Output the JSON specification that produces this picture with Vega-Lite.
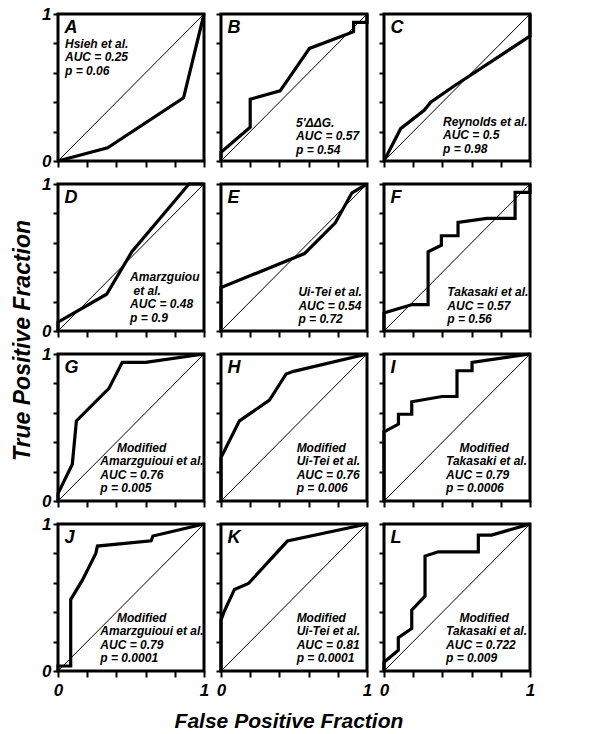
{
"$schema":"https://vega.github.io/schema/vega-lite/v6.json",
"padding":{"left":12,"top":3,"right":5,"bottom":5},
"datasets":{
"diag":[{"fpf":0,"tpf":0},{"fpf":1,"tpf":1}],
"roc":[
{"panel":"A","i":0,"fpf":0,"tpf":0},{"panel":"A","i":1,"fpf":0.34,"tpf":0.09},{"panel":"A","i":2,"fpf":0.86,"tpf":0.43},{"panel":"A","i":3,"fpf":1,"tpf":1},
{"panel":"B","i":0,"fpf":0,"tpf":0},{"panel":"B","i":1,"fpf":0,"tpf":0.06},{"panel":"B","i":2,"fpf":0.2,"tpf":0.23},{"panel":"B","i":3,"fpf":0.2,"tpf":0.42},{"panel":"B","i":4,"fpf":0.405,"tpf":0.477},{"panel":"B","i":5,"fpf":0.606,"tpf":0.766},{"panel":"B","i":6,"fpf":0.908,"tpf":0.88},{"panel":"B","i":7,"fpf":0.908,"tpf":0.943},{"panel":"B","i":8,"fpf":1,"tpf":0.943},{"panel":"B","i":9,"fpf":1,"tpf":1},
{"panel":"C","i":0,"fpf":0,"tpf":0},{"panel":"C","i":1,"fpf":0.114,"tpf":0.22},{"panel":"C","i":2,"fpf":0.275,"tpf":0.345},{"panel":"C","i":3,"fpf":0.32,"tpf":0.4},{"panel":"C","i":4,"fpf":0.48,"tpf":0.51},{"panel":"C","i":5,"fpf":1,"tpf":0.85},{"panel":"C","i":6,"fpf":1,"tpf":1},
{"panel":"D","i":0,"fpf":0,"tpf":0},{"panel":"D","i":1,"fpf":0,"tpf":0.06},{"panel":"D","i":2,"fpf":0.333,"tpf":0.25},{"panel":"D","i":3,"fpf":0.506,"tpf":0.539},{"panel":"D","i":4,"fpf":0.897,"tpf":1},{"panel":"D","i":5,"fpf":1,"tpf":1},
{"panel":"E","i":0,"fpf":0,"tpf":0},{"panel":"E","i":1,"fpf":0,"tpf":0.295},{"panel":"E","i":2,"fpf":0.572,"tpf":0.527},{"panel":"E","i":3,"fpf":0.783,"tpf":0.736},{"panel":"E","i":4,"fpf":0.897,"tpf":0.94},{"panel":"E","i":5,"fpf":1,"tpf":1},
{"panel":"F","i":0,"fpf":0,"tpf":0},{"panel":"F","i":1,"fpf":0,"tpf":0.123},{"panel":"F","i":2,"fpf":0.193,"tpf":0.18},{"panel":"F","i":3,"fpf":0.302,"tpf":0.18},{"panel":"F","i":4,"fpf":0.302,"tpf":0.539},{"panel":"F","i":5,"fpf":0.393,"tpf":0.584},{"panel":"F","i":6,"fpf":0.393,"tpf":0.648},{"panel":"F","i":7,"fpf":0.507,"tpf":0.648},{"panel":"F","i":8,"fpf":0.507,"tpf":0.739},{"panel":"F","i":9,"fpf":0.705,"tpf":0.766},{"panel":"F","i":10,"fpf":0.898,"tpf":0.766},{"panel":"F","i":11,"fpf":0.898,"tpf":0.943},{"panel":"F","i":12,"fpf":1,"tpf":0.943},{"panel":"F","i":13,"fpf":1,"tpf":1},
{"panel":"G","i":0,"fpf":0,"tpf":0},{"panel":"G","i":1,"fpf":0,"tpf":0.05},{"panel":"G","i":2,"fpf":0.098,"tpf":0.25},{"panel":"G","i":3,"fpf":0.126,"tpf":0.545},{"panel":"G","i":4,"fpf":0.349,"tpf":0.766},{"panel":"G","i":5,"fpf":0.44,"tpf":0.943},{"panel":"G","i":6,"fpf":0.6,"tpf":0.943},{"panel":"G","i":7,"fpf":1,"tpf":1},
{"panel":"H","i":0,"fpf":0,"tpf":0},{"panel":"H","i":1,"fpf":0,"tpf":0.295},{"panel":"H","i":2,"fpf":0.126,"tpf":0.545},{"panel":"H","i":3,"fpf":0.332,"tpf":0.686},{"panel":"H","i":4,"fpf":0.446,"tpf":0.864},{"panel":"H","i":5,"fpf":0.497,"tpf":0.882},{"panel":"H","i":6,"fpf":1,"tpf":1},
{"panel":"I","i":0,"fpf":0,"tpf":0},{"panel":"I","i":1,"fpf":0,"tpf":0.47},{"panel":"I","i":2,"fpf":0.099,"tpf":0.523},{"panel":"I","i":3,"fpf":0.099,"tpf":0.59},{"panel":"I","i":4,"fpf":0.19,"tpf":0.59},{"panel":"I","i":5,"fpf":0.19,"tpf":0.675},{"panel":"I","i":6,"fpf":0.397,"tpf":0.711},{"panel":"I","i":7,"fpf":0.5,"tpf":0.711},{"panel":"I","i":8,"fpf":0.5,"tpf":0.886},{"panel":"I","i":9,"fpf":0.603,"tpf":0.886},{"panel":"I","i":10,"fpf":0.603,"tpf":0.943},{"panel":"I","i":11,"fpf":1,"tpf":1},
{"panel":"J","i":0,"fpf":0,"tpf":0},{"panel":"J","i":1,"fpf":0,"tpf":0.034},{"panel":"J","i":2,"fpf":0.087,"tpf":0.034},{"panel":"J","i":3,"fpf":0.087,"tpf":0.486},{"panel":"J","i":4,"fpf":0.167,"tpf":0.618},{"panel":"J","i":5,"fpf":0.259,"tpf":0.8},{"panel":"J","i":6,"fpf":0.27,"tpf":0.85},{"panel":"J","i":7,"fpf":0.638,"tpf":0.886},{"panel":"J","i":8,"fpf":0.65,"tpf":0.918},{"panel":"J","i":9,"fpf":1,"tpf":1},
{"panel":"K","i":0,"fpf":0,"tpf":0},{"panel":"K","i":1,"fpf":0,"tpf":0.345},{"panel":"K","i":2,"fpf":0.02,"tpf":0.4},{"panel":"K","i":3,"fpf":0.092,"tpf":0.555},{"panel":"K","i":4,"fpf":0.188,"tpf":0.595},{"panel":"K","i":5,"fpf":0.455,"tpf":0.884},{"panel":"K","i":6,"fpf":1,"tpf":1},
{"panel":"L","i":0,"fpf":0,"tpf":0},{"panel":"L","i":1,"fpf":0,"tpf":0.06},{"panel":"L","i":2,"fpf":0.098,"tpf":0.141},{"panel":"L","i":3,"fpf":0.098,"tpf":0.227},{"panel":"L","i":4,"fpf":0.19,"tpf":0.289},{"panel":"L","i":5,"fpf":0.19,"tpf":0.414},{"panel":"L","i":6,"fpf":0.281,"tpf":0.509},{"panel":"L","i":7,"fpf":0.281,"tpf":0.782},{"panel":"L","i":8,"fpf":0.372,"tpf":0.811},{"panel":"L","i":9,"fpf":0.646,"tpf":0.811},{"panel":"L","i":10,"fpf":0.646,"tpf":0.925},{"panel":"L","i":11,"fpf":0.737,"tpf":0.925},{"panel":"L","i":12,"fpf":1,"tpf":1}
],
"notes":[
{"panel":"A","letter":"A","note":"Hsieh et al.\nAUC = 0.25\np = 0.06"},
{"panel":"B","letter":"B","note":"5'ΔΔG.\nAUC = 0.57\np = 0.54"},
{"panel":"C","letter":"C","note":"Reynolds et al.\nAUC = 0.5\np = 0.98"},
{"panel":"D","letter":"D","note":"Amarzguiou\n\u200b\u00a0et al.\nAUC = 0.48\np = 0.9"},
{"panel":"E","letter":"E","note":"Ui-Tei et al.\nAUC = 0.54\np = 0.72"},
{"panel":"F","letter":"F","note":"Takasaki et al.\nAUC = 0.57\np = 0.56"},
{"panel":"G","letter":"G","note":"\u200b\u00a0\u00a0\u00a0\u00a0\u00a0Modified\nAmarzguioui et al.\nAUC = 0.76\np = 0.005"},
{"panel":"H","letter":"H","note":"Modified\nUi-Tei et al.\nAUC = 0.76\np = 0.006"},
{"panel":"I","letter":"I","note":"\u200b\u00a0\u00a0\u00a0\u00a0Modified\nTakasaki et al.\nAUC = 0.79\np = 0.0006"},
{"panel":"J","letter":"J","note":"\u200b\u00a0\u00a0\u00a0\u00a0\u00a0Modified\nAmarzguioui et al.\nAUC = 0.79\np = 0.0001"},
{"panel":"K","letter":"K","note":"Modified\nUi-Tei et al.\nAUC = 0.81\np = 0.0001"},
{"panel":"L","letter":"L","note":"\u200b\u00a0\u00a0\u00a0\u00a0Modified\nTakasaki et al.\nAUC = 0.722\np = 0.009"}
]
},
"config":{
"font":"Liberation Sans",
"view":{"stroke":"black","strokeWidth":3},
"axis":{"domain":false,"grid":false,"ticks":true,"tickCount":10,"tickColor":"black","tickWidth":2,"labelFont":"Liberation Sans","labelFontSize":17,"labelFontWeight":"bold","labelFontStyle":"italic","labelColor":"black","labelFlush":false,"labelOverlap":false},
"axisX":{"tickSize":6,"labelPadding":5},
"axisY":{"tickSize":5,"labelPadding":2},
"text":{"font":"Liberation Sans","fontWeight":"bold","fontStyle":"italic","color":"black"},
"line":{"color":"black"},
"title":{"font":"Liberation Sans","fontSize":21,"fontWeight":"bold","fontStyle":"italic","color":"black"}
},
"title":{"text":"True Positive Fraction","orient":"left","anchor":"middle","offset":5,"fontSize":23,"dx":27},
"hconcat":[{
"title":{"text":"False Positive Fraction","orient":"bottom","anchor":"middle","offset":11},
"bounds":"flush",
"columns":3,
"spacing":{"row":23,"column":17},
"concat":[
{"width":146,"height":147,"layer":[
{"data":{"name":"diag"},"mark":{"type":"line","strokeWidth":1},"encoding":{"x":{"field":"fpf","type":"quantitative","scale":{"domain":[0,1],"nice":false},"axis":{"values":[0,0.2,0.4,0.6,0.8,1],"tickCount":10,"labels":false,"title":null}},"y":{"field":"tpf","type":"quantitative","scale":{"domain":[0,1],"nice":false},"axis":{"values":[0,0.2,0.4,0.6,0.8,1],"tickCount":10,"labelExpr":"datum.value==0?'0':datum.value==1?'1':''","title":null}}}},
{"data":{"name":"roc"},"transform":[{"filter":"datum.panel=='A'"}],"mark":{"type":"line","strokeWidth":3.2},"encoding":{"x":{"field":"fpf","type":"quantitative","axis":{"title":null}},"y":{"field":"tpf","type":"quantitative","axis":{"title":null}},"order":{"field":"i","type":"quantitative"}}},
{"data":{"name":"notes"},"transform":[{"filter":"datum.panel=='A'"}],"mark":{"type":"text","align":"left","baseline":"alphabetic","fontSize":12,"lineHeight":13.5,"lineBreak":"\n","clip":true},"encoding":{"x":{"datum":0.048,"type":"quantitative","axis":{"title":null}},"y":{"datum":0.772,"type":"quantitative","axis":{"title":null}},"text":{"field":"note"}}},
{"data":{"name":"notes"},"transform":[{"filter":"datum.panel=='A'"}],"mark":{"type":"text","align":"left","baseline":"alphabetic","fontSize":18},"encoding":{"x":{"datum":0.045,"type":"quantitative","axis":{"title":null}},"y":{"datum":0.87,"type":"quantitative","axis":{"title":null}},"text":{"field":"letter"}}}
]},
{"width":146,"height":147,"layer":[
{"data":{"name":"diag"},"mark":{"type":"line","strokeWidth":1},"encoding":{"x":{"field":"fpf","type":"quantitative","scale":{"domain":[0,1],"nice":false},"axis":{"values":[0,0.2,0.4,0.6,0.8,1],"tickCount":10,"labels":false,"title":null}},"y":{"field":"tpf","type":"quantitative","scale":{"domain":[0,1],"nice":false},"axis":{"values":[0,0.2,0.4,0.6,0.8,1],"tickCount":10,"labels":false,"title":null}}}},
{"data":{"name":"roc"},"transform":[{"filter":"datum.panel=='B'"}],"mark":{"type":"line","strokeWidth":3.2},"encoding":{"x":{"field":"fpf","type":"quantitative","axis":{"title":null}},"y":{"field":"tpf","type":"quantitative","axis":{"title":null}},"order":{"field":"i","type":"quantitative"}}},
{"data":{"name":"notes"},"transform":[{"filter":"datum.panel=='B'"}],"mark":{"type":"text","align":"left","baseline":"alphabetic","fontSize":12,"lineHeight":13.5,"lineBreak":"\n","clip":true},"encoding":{"x":{"datum":0.514,"type":"quantitative","axis":{"title":null}},"y":{"datum":0.233,"type":"quantitative","axis":{"title":null}},"text":{"field":"note"}}},
{"data":{"name":"notes"},"transform":[{"filter":"datum.panel=='B'"}],"mark":{"type":"text","align":"left","baseline":"alphabetic","fontSize":18},"encoding":{"x":{"datum":0.045,"type":"quantitative","axis":{"title":null}},"y":{"datum":0.87,"type":"quantitative","axis":{"title":null}},"text":{"field":"letter"}}}
]},
{"width":146,"height":147,"layer":[
{"data":{"name":"diag"},"mark":{"type":"line","strokeWidth":1},"encoding":{"x":{"field":"fpf","type":"quantitative","scale":{"domain":[0,1],"nice":false},"axis":{"values":[0,0.2,0.4,0.6,0.8,1],"tickCount":10,"labels":false,"title":null}},"y":{"field":"tpf","type":"quantitative","scale":{"domain":[0,1],"nice":false},"axis":{"values":[0,0.2,0.4,0.6,0.8,1],"tickCount":10,"labels":false,"title":null}}}},
{"data":{"name":"roc"},"transform":[{"filter":"datum.panel=='C'"}],"mark":{"type":"line","strokeWidth":3.2},"encoding":{"x":{"field":"fpf","type":"quantitative","axis":{"title":null}},"y":{"field":"tpf","type":"quantitative","axis":{"title":null}},"order":{"field":"i","type":"quantitative"}}},
{"data":{"name":"notes"},"transform":[{"filter":"datum.panel=='C'"}],"mark":{"type":"text","align":"left","baseline":"alphabetic","fontSize":12,"lineHeight":13.5,"lineBreak":"\n","clip":true},"encoding":{"x":{"datum":0.404,"type":"quantitative","axis":{"title":null}},"y":{"datum":0.24,"type":"quantitative","axis":{"title":null}},"text":{"field":"note"}}},
{"data":{"name":"notes"},"transform":[{"filter":"datum.panel=='C'"}],"mark":{"type":"text","align":"left","baseline":"alphabetic","fontSize":18},"encoding":{"x":{"datum":0.045,"type":"quantitative","axis":{"title":null}},"y":{"datum":0.87,"type":"quantitative","axis":{"title":null}},"text":{"field":"letter"}}}
]},
{"width":146,"height":147,"layer":[
{"data":{"name":"diag"},"mark":{"type":"line","strokeWidth":1},"encoding":{"x":{"field":"fpf","type":"quantitative","scale":{"domain":[0,1],"nice":false},"axis":{"values":[0,0.2,0.4,0.6,0.8,1],"tickCount":10,"labels":false,"title":null}},"y":{"field":"tpf","type":"quantitative","scale":{"domain":[0,1],"nice":false},"axis":{"values":[0,0.2,0.4,0.6,0.8,1],"tickCount":10,"labelExpr":"datum.value==0?'0':datum.value==1?'1':''","title":null}}}},
{"data":{"name":"roc"},"transform":[{"filter":"datum.panel=='D'"}],"mark":{"type":"line","strokeWidth":3.2},"encoding":{"x":{"field":"fpf","type":"quantitative","axis":{"title":null}},"y":{"field":"tpf","type":"quantitative","axis":{"title":null}},"order":{"field":"i","type":"quantitative"}}},
{"data":{"name":"notes"},"transform":[{"filter":"datum.panel=='D'"}],"mark":{"type":"text","align":"left","baseline":"alphabetic","fontSize":12,"lineHeight":13.5,"lineBreak":"\n","clip":true},"encoding":{"x":{"datum":0.494,"type":"quantitative","axis":{"title":null}},"y":{"datum":0.339,"type":"quantitative","axis":{"title":null}},"text":{"field":"note"}}},
{"data":{"name":"notes"},"transform":[{"filter":"datum.panel=='D'"}],"mark":{"type":"text","align":"left","baseline":"alphabetic","fontSize":18},"encoding":{"x":{"datum":0.045,"type":"quantitative","axis":{"title":null}},"y":{"datum":0.87,"type":"quantitative","axis":{"title":null}},"text":{"field":"letter"}}}
]},
{"width":146,"height":147,"layer":[
{"data":{"name":"diag"},"mark":{"type":"line","strokeWidth":1},"encoding":{"x":{"field":"fpf","type":"quantitative","scale":{"domain":[0,1],"nice":false},"axis":{"values":[0,0.2,0.4,0.6,0.8,1],"tickCount":10,"labels":false,"title":null}},"y":{"field":"tpf","type":"quantitative","scale":{"domain":[0,1],"nice":false},"axis":{"values":[0,0.2,0.4,0.6,0.8,1],"tickCount":10,"labels":false,"title":null}}}},
{"data":{"name":"roc"},"transform":[{"filter":"datum.panel=='E'"}],"mark":{"type":"line","strokeWidth":3.2},"encoding":{"x":{"field":"fpf","type":"quantitative","axis":{"title":null}},"y":{"field":"tpf","type":"quantitative","axis":{"title":null}},"order":{"field":"i","type":"quantitative"}}},
{"data":{"name":"notes"},"transform":[{"filter":"datum.panel=='E'"}],"mark":{"type":"text","align":"left","baseline":"alphabetic","fontSize":12,"lineHeight":13.5,"lineBreak":"\n","clip":true},"encoding":{"x":{"datum":0.53,"type":"quantitative","axis":{"title":null}},"y":{"datum":0.236,"type":"quantitative","axis":{"title":null}},"text":{"field":"note"}}},
{"data":{"name":"notes"},"transform":[{"filter":"datum.panel=='E'"}],"mark":{"type":"text","align":"left","baseline":"alphabetic","fontSize":18},"encoding":{"x":{"datum":0.045,"type":"quantitative","axis":{"title":null}},"y":{"datum":0.87,"type":"quantitative","axis":{"title":null}},"text":{"field":"letter"}}}
]},
{"width":146,"height":147,"layer":[
{"data":{"name":"diag"},"mark":{"type":"line","strokeWidth":1},"encoding":{"x":{"field":"fpf","type":"quantitative","scale":{"domain":[0,1],"nice":false},"axis":{"values":[0,0.2,0.4,0.6,0.8,1],"tickCount":10,"labels":false,"title":null}},"y":{"field":"tpf","type":"quantitative","scale":{"domain":[0,1],"nice":false},"axis":{"values":[0,0.2,0.4,0.6,0.8,1],"tickCount":10,"labels":false,"title":null}}}},
{"data":{"name":"roc"},"transform":[{"filter":"datum.panel=='F'"}],"mark":{"type":"line","strokeWidth":3.2},"encoding":{"x":{"field":"fpf","type":"quantitative","axis":{"title":null}},"y":{"field":"tpf","type":"quantitative","axis":{"title":null}},"order":{"field":"i","type":"quantitative"}}},
{"data":{"name":"notes"},"transform":[{"filter":"datum.panel=='F'"}],"mark":{"type":"text","align":"left","baseline":"alphabetic","fontSize":12,"lineHeight":13.5,"lineBreak":"\n","clip":true},"encoding":{"x":{"datum":0.434,"type":"quantitative","axis":{"title":null}},"y":{"datum":0.236,"type":"quantitative","axis":{"title":null}},"text":{"field":"note"}}},
{"data":{"name":"notes"},"transform":[{"filter":"datum.panel=='F'"}],"mark":{"type":"text","align":"left","baseline":"alphabetic","fontSize":18},"encoding":{"x":{"datum":0.045,"type":"quantitative","axis":{"title":null}},"y":{"datum":0.87,"type":"quantitative","axis":{"title":null}},"text":{"field":"letter"}}}
]},
{"width":146,"height":147,"layer":[
{"data":{"name":"diag"},"mark":{"type":"line","strokeWidth":1},"encoding":{"x":{"field":"fpf","type":"quantitative","scale":{"domain":[0,1],"nice":false},"axis":{"values":[0,0.2,0.4,0.6,0.8,1],"tickCount":10,"labels":false,"title":null}},"y":{"field":"tpf","type":"quantitative","scale":{"domain":[0,1],"nice":false},"axis":{"values":[0,0.2,0.4,0.6,0.8,1],"tickCount":10,"labelExpr":"datum.value==0?'0':datum.value==1?'1':''","title":null}}}},
{"data":{"name":"roc"},"transform":[{"filter":"datum.panel=='G'"}],"mark":{"type":"line","strokeWidth":3.2},"encoding":{"x":{"field":"fpf","type":"quantitative","axis":{"title":null}},"y":{"field":"tpf","type":"quantitative","axis":{"title":null}},"order":{"field":"i","type":"quantitative"}}},
{"data":{"name":"notes"},"transform":[{"filter":"datum.panel=='G'"}],"mark":{"type":"text","align":"left","baseline":"alphabetic","fontSize":12,"lineHeight":13.5,"lineBreak":"\n","clip":true},"encoding":{"x":{"datum":0.29,"type":"quantitative","axis":{"title":null}},"y":{"datum":0.334,"type":"quantitative","axis":{"title":null}},"text":{"field":"note"}}},
{"data":{"name":"notes"},"transform":[{"filter":"datum.panel=='G'"}],"mark":{"type":"text","align":"left","baseline":"alphabetic","fontSize":18},"encoding":{"x":{"datum":0.045,"type":"quantitative","axis":{"title":null}},"y":{"datum":0.87,"type":"quantitative","axis":{"title":null}},"text":{"field":"letter"}}}
]},
{"width":146,"height":147,"layer":[
{"data":{"name":"diag"},"mark":{"type":"line","strokeWidth":1},"encoding":{"x":{"field":"fpf","type":"quantitative","scale":{"domain":[0,1],"nice":false},"axis":{"values":[0,0.2,0.4,0.6,0.8,1],"tickCount":10,"labels":false,"title":null}},"y":{"field":"tpf","type":"quantitative","scale":{"domain":[0,1],"nice":false},"axis":{"values":[0,0.2,0.4,0.6,0.8,1],"tickCount":10,"labels":false,"title":null}}}},
{"data":{"name":"roc"},"transform":[{"filter":"datum.panel=='H'"}],"mark":{"type":"line","strokeWidth":3.2},"encoding":{"x":{"field":"fpf","type":"quantitative","axis":{"title":null}},"y":{"field":"tpf","type":"quantitative","axis":{"title":null}},"order":{"field":"i","type":"quantitative"}}},
{"data":{"name":"notes"},"transform":[{"filter":"datum.panel=='H'"}],"mark":{"type":"text","align":"left","baseline":"alphabetic","fontSize":12,"lineHeight":13.5,"lineBreak":"\n","clip":true},"encoding":{"x":{"datum":0.518,"type":"quantitative","axis":{"title":null}},"y":{"datum":0.334,"type":"quantitative","axis":{"title":null}},"text":{"field":"note"}}},
{"data":{"name":"notes"},"transform":[{"filter":"datum.panel=='H'"}],"mark":{"type":"text","align":"left","baseline":"alphabetic","fontSize":18},"encoding":{"x":{"datum":0.045,"type":"quantitative","axis":{"title":null}},"y":{"datum":0.87,"type":"quantitative","axis":{"title":null}},"text":{"field":"letter"}}}
]},
{"width":146,"height":147,"layer":[
{"data":{"name":"diag"},"mark":{"type":"line","strokeWidth":1},"encoding":{"x":{"field":"fpf","type":"quantitative","scale":{"domain":[0,1],"nice":false},"axis":{"values":[0,0.2,0.4,0.6,0.8,1],"tickCount":10,"labels":false,"title":null}},"y":{"field":"tpf","type":"quantitative","scale":{"domain":[0,1],"nice":false},"axis":{"values":[0,0.2,0.4,0.6,0.8,1],"tickCount":10,"labels":false,"title":null}}}},
{"data":{"name":"roc"},"transform":[{"filter":"datum.panel=='I'"}],"mark":{"type":"line","strokeWidth":3.2},"encoding":{"x":{"field":"fpf","type":"quantitative","axis":{"title":null}},"y":{"field":"tpf","type":"quantitative","axis":{"title":null}},"order":{"field":"i","type":"quantitative"}}},
{"data":{"name":"notes"},"transform":[{"filter":"datum.panel=='I'"}],"mark":{"type":"text","align":"left","baseline":"alphabetic","fontSize":12,"lineHeight":13.5,"lineBreak":"\n","clip":true},"encoding":{"x":{"datum":0.425,"type":"quantitative","axis":{"title":null}},"y":{"datum":0.334,"type":"quantitative","axis":{"title":null}},"text":{"field":"note"}}},
{"data":{"name":"notes"},"transform":[{"filter":"datum.panel=='I'"}],"mark":{"type":"text","align":"left","baseline":"alphabetic","fontSize":18},"encoding":{"x":{"datum":0.045,"type":"quantitative","axis":{"title":null}},"y":{"datum":0.87,"type":"quantitative","axis":{"title":null}},"text":{"field":"letter"}}}
]},
{"width":146,"height":147,"layer":[
{"data":{"name":"diag"},"mark":{"type":"line","strokeWidth":1},"encoding":{"x":{"field":"fpf","type":"quantitative","scale":{"domain":[0,1],"nice":false},"axis":{"values":[0,0.2,0.4,0.6,0.8,1],"tickCount":10,"labelExpr":"datum.value==0?'0':datum.value==1?'1':''","title":null}},"y":{"field":"tpf","type":"quantitative","scale":{"domain":[0,1],"nice":false},"axis":{"values":[0,0.2,0.4,0.6,0.8,1],"tickCount":10,"labelExpr":"datum.value==0?'0':datum.value==1?'1':''","title":null}}}},
{"data":{"name":"roc"},"transform":[{"filter":"datum.panel=='J'"}],"mark":{"type":"line","strokeWidth":3.2},"encoding":{"x":{"field":"fpf","type":"quantitative","axis":{"title":null}},"y":{"field":"tpf","type":"quantitative","axis":{"title":null}},"order":{"field":"i","type":"quantitative"}}},
{"data":{"name":"notes"},"transform":[{"filter":"datum.panel=='J'"}],"mark":{"type":"text","align":"left","baseline":"alphabetic","fontSize":12,"lineHeight":13.5,"lineBreak":"\n","clip":true},"encoding":{"x":{"datum":0.29,"type":"quantitative","axis":{"title":null}},"y":{"datum":0.334,"type":"quantitative","axis":{"title":null}},"text":{"field":"note"}}},
{"data":{"name":"notes"},"transform":[{"filter":"datum.panel=='J'"}],"mark":{"type":"text","align":"left","baseline":"alphabetic","fontSize":18},"encoding":{"x":{"datum":0.045,"type":"quantitative","axis":{"title":null}},"y":{"datum":0.87,"type":"quantitative","axis":{"title":null}},"text":{"field":"letter"}}}
]},
{"width":146,"height":147,"layer":[
{"data":{"name":"diag"},"mark":{"type":"line","strokeWidth":1},"encoding":{"x":{"field":"fpf","type":"quantitative","scale":{"domain":[0,1],"nice":false},"axis":{"values":[0,0.2,0.4,0.6,0.8,1],"tickCount":10,"labelExpr":"datum.value==0?'0':datum.value==1?'1':''","title":null}},"y":{"field":"tpf","type":"quantitative","scale":{"domain":[0,1],"nice":false},"axis":{"values":[0,0.2,0.4,0.6,0.8,1],"tickCount":10,"labels":false,"title":null}}}},
{"data":{"name":"roc"},"transform":[{"filter":"datum.panel=='K'"}],"mark":{"type":"line","strokeWidth":3.2},"encoding":{"x":{"field":"fpf","type":"quantitative","axis":{"title":null}},"y":{"field":"tpf","type":"quantitative","axis":{"title":null}},"order":{"field":"i","type":"quantitative"}}},
{"data":{"name":"notes"},"transform":[{"filter":"datum.panel=='K'"}],"mark":{"type":"text","align":"left","baseline":"alphabetic","fontSize":12,"lineHeight":13.5,"lineBreak":"\n","clip":true},"encoding":{"x":{"datum":0.518,"type":"quantitative","axis":{"title":null}},"y":{"datum":0.334,"type":"quantitative","axis":{"title":null}},"text":{"field":"note"}}},
{"data":{"name":"notes"},"transform":[{"filter":"datum.panel=='K'"}],"mark":{"type":"text","align":"left","baseline":"alphabetic","fontSize":18},"encoding":{"x":{"datum":0.045,"type":"quantitative","axis":{"title":null}},"y":{"datum":0.87,"type":"quantitative","axis":{"title":null}},"text":{"field":"letter"}}}
]},
{"width":146,"height":147,"layer":[
{"data":{"name":"diag"},"mark":{"type":"line","strokeWidth":1},"encoding":{"x":{"field":"fpf","type":"quantitative","scale":{"domain":[0,1],"nice":false},"axis":{"values":[0,0.2,0.4,0.6,0.8,1],"tickCount":10,"labelExpr":"datum.value==0?'0':datum.value==1?'1':''","title":null}},"y":{"field":"tpf","type":"quantitative","scale":{"domain":[0,1],"nice":false},"axis":{"values":[0,0.2,0.4,0.6,0.8,1],"tickCount":10,"labels":false,"title":null}}}},
{"data":{"name":"roc"},"transform":[{"filter":"datum.panel=='L'"}],"mark":{"type":"line","strokeWidth":3.2},"encoding":{"x":{"field":"fpf","type":"quantitative","axis":{"title":null}},"y":{"field":"tpf","type":"quantitative","axis":{"title":null}},"order":{"field":"i","type":"quantitative"}}},
{"data":{"name":"notes"},"transform":[{"filter":"datum.panel=='L'"}],"mark":{"type":"text","align":"left","baseline":"alphabetic","fontSize":12,"lineHeight":13.5,"lineBreak":"\n","clip":true},"encoding":{"x":{"datum":0.425,"type":"quantitative","axis":{"title":null}},"y":{"datum":0.334,"type":"quantitative","axis":{"title":null}},"text":{"field":"note"}}},
{"data":{"name":"notes"},"transform":[{"filter":"datum.panel=='L'"}],"mark":{"type":"text","align":"left","baseline":"alphabetic","fontSize":18},"encoding":{"x":{"datum":0.045,"type":"quantitative","axis":{"title":null}},"y":{"datum":0.87,"type":"quantitative","axis":{"title":null}},"text":{"field":"letter"}}}
]}
]
}]
}
